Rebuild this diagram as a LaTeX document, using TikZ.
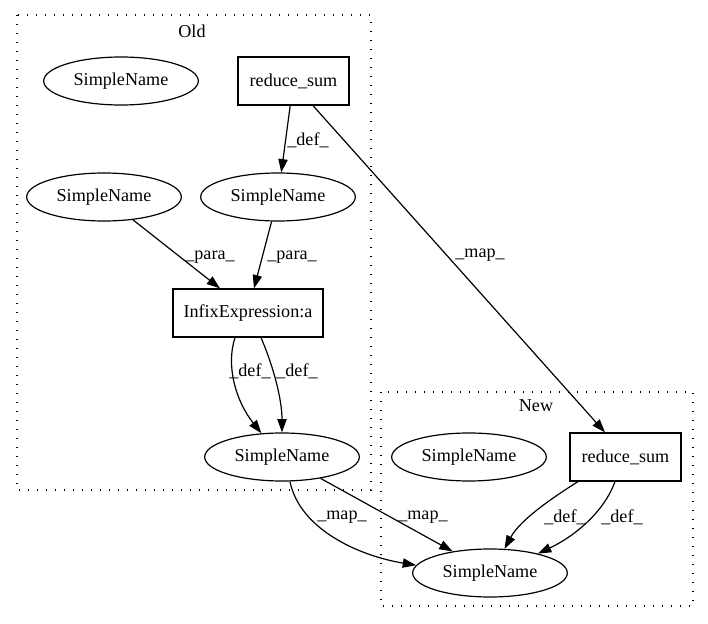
\documentclass[tikz,border=0pt]{standalone}
\usepackage{fontspec}
\setmainfont{Liberation Serif}
\usetikzlibrary{arrows.meta,shapes.geometric,calc}
\begin{document}
\begin{tikzpicture}[x=0.75pt,y=-0.75pt,
  every node/.style={font=\fontsize{13.6}{16}\selectfont, inner sep=0pt},
  ell/.style={draw, ellipse, minimum width=116pt, minimum height=36pt, line width=0.9pt},
  box/.style={draw, rectangle, minimum height=36pt, line width=0.9pt},
  lbl/.style={},
  cluster/.style={draw, line width=1pt, dash pattern=on 1pt off 5.75pt},
  edge/.style={draw, line width=0.9pt, -{Triangle[length=10pt,width=7pt]}}]
\useasboundingbox (0,0) rectangle (708,624);

% clusters
\draw[cluster] (17,15) rectangle (371,490);
\draw[cluster] (381,392) rectangle (693,606);
\node (oldlbl) at (192,31) {Old};
\node (newlbl) at (536,406) {New};

% nodes
\node[ell] (sntop) at (121,81) {SimpleName};
\node[box, minimum width=83.25pt] (rsold) at (293.5,81) {reduce\_sum};
\node[ell] (snl) at (104,197) {SimpleName};
\node[ell] (snm) at (278,197) {SimpleName};
\node[box, minimum width=112.5pt] (inf) at (248,313) {InfixExpression:a};
\node[ell] (snb) at (282,457) {SimpleName};
\node[ell] (snnew) at (469,457) {SimpleName};
\node[box, minimum width=83.25pt] (rsnew) at (625.5,457) {reduce\_sum};
\node[ell] (snnb) at (490,573) {SimpleName};

% edges
\draw[edge] (rsold) -- (snm);
\draw[edge] (snl) -- ($(inf.north)+(-28,0)$);
\draw[edge] (snm) -- ($(inf.north)+(6,0)$);
\draw[edge] ($(inf.south)+(-13,0)$) .. controls (226,365) and (235,400) .. (snb.131);
\draw[edge] ($(inf.south)+(13,0)$) .. controls (274,368) and (282,400) .. (snb.north);
\draw[edge] ($(rsold.south)+(19.5,0)$) -- ($(rsnew.north)+(-20.5,0)$);
\draw[edge] (snb.-72) .. controls (300,530) and (360,556) .. (snnb.174);
\draw[edge] (snb.-29) -- (snnb.150);
\draw[edge] ($(rsnew.south)+(-47.5,0)$) .. controls (552,498) and (520,520) .. (snnb.59);
\draw[edge] ($(rsnew.south)+(-10.5,0)$) .. controls (604,512) and (575,536) .. (snnb.22);

% edge labels
\node[lbl] (l1) at (308,140) {\_def\_};
\node[lbl] (l2) at (210,257) {\_para\_};
\node[lbl] (l3) at (292,257) {\_para\_};
\node[lbl] (l4) at (250,371) {\_def\_};
\node[lbl] (l5) at (297,371) {\_def\_};
\node[lbl] (l6) at (480,255) {\_map\_};
\node[lbl] (l7) at (342,517) {\_map\_};
\node[lbl] (l8) at (423,517) {\_map\_};
\node[lbl] (l9) at (565,517) {\_def\_};
\node[lbl] (l10) at (622,517) {\_def\_};
\end{tikzpicture}
\end{document}
